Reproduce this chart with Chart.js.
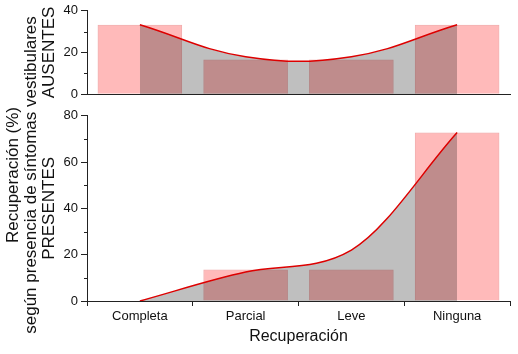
<!DOCTYPE html>
<html>
<head>
<meta charset="utf-8">
<script src="https://cdn.jsdelivr.net/npm/chart.js@4"></script>
<style>
body { margin: 0; background: #fff; }
#wrap { position: relative; width: 518px; height: 354px; overflow: hidden; }
canvas { position: absolute; left: 0; top: 0; }
#ytitle {
  position: absolute; left: -155px; top: 157px; width: 354px; height: 36px;
  font: 17px "Liberation Sans", Arial, sans-serif; line-height: 18px;
  text-align: center; color: #111; transform: rotate(-90deg);
}
</style>
</head>
<body>
<div id="wrap">
  <canvas id="abajo" width="518" height="354"></canvas>
  <canvas id="arriba" width="518" height="105"></canvas>
  <div id="ytitle">Recuperación (%)<br>según presencia de síntomas vestibulares</div>
</div>
<script>
const categorias = ['Completa', 'Parcial', 'Leve', 'Ninguna']
// sintomas vestibulares AUSENTES
const ausentesBarras = [33.3, 16.7, 16.7, 33.3]
const ausentesCurva = [33.3, 18, 18, 33.3]
// sintomas vestibulares PRESENTES
const presentesBarras = [0, 13.6, 13.6, 72.7]
const presentesCurva = [0, 12.5, 22, 72.7]

const fuente = '"Liberation Sans", Arial, sans-serif'
const negro = '#222'

// ticks menores (10, 30, ...)
const menores = {
  id: 'menores',
  afterDraw(chart) {
    const y = chart.scales.y
    const ctx = chart.ctx
    ctx.save()
    ctx.strokeStyle = negro
    ctx.lineWidth = 1
    for (let v = 10; v < y.max; v += 20) {
      const py = Math.round(y.getPixelForValue(v)) + 0.5
      ctx.beginPath()
      ctx.moveTo(y.right - 3, py)
      ctx.lineTo(y.right, py)
      ctx.stroke()
    }
    ctx.restore()
  }
}

function panel(id, barras, curva, max, titulo, conEtiquetas, pad, monotona) {
  return new Chart(document.getElementById(id), {
    type: 'bar',
    data: {
      labels: categorias,
      datasets: [{
        type: 'line',
        data: curva,
        borderColor: '#dd0000',
        borderWidth: 1.5,
        backgroundColor: 'rgba(0,0,0,0.25)',
        fill: 'origin',
        pointRadius: 0,
        tension: 0.4,
        cubicInterpolationMode: monotona ? 'monotone' : 'default',
        order: 1
      }, {
        data: barras,
        backgroundColor: 'rgba(255,0,0,0.27)',
        borderColor: 'rgba(225,70,70,0.45)',
        borderWidth: 1,
        barPercentage: 0.8,
        categoryPercentage: 1,
        order: 2
      }]
    },
    options: {
      responsive: false,
      animation: false,
      layout: { padding: pad },
      plugins: { legend: { display: false }, tooltip: { enabled: false } },
      scales: {
        x: {
          offset: true,
          grid: { display: true, drawOnChartArea: false, drawTicks: conEtiquetas, tickLength: 5, color: negro },
          border: { color: negro, width: 1 },
          ticks: { display: conEtiquetas, color: '#111', padding: 3, font: { family: fuente, size: 13 } },
          title: {
            display: conEtiquetas, text: 'Recuperación', color: '#111',
            font: { family: fuente, size: 16 }, padding: { top: 0, bottom: 7.7 }
          },
          afterFit: s => { s.height = conEtiquetas ? 53 : 0 }
        },
        y: {
          min: 0, max: max,
          ticks: { stepSize: 20, color: '#111', padding: 3, font: { family: fuente, size: 13 } },
          grid: { drawOnChartArea: false, tickLength: 6, color: negro },
          border: { color: negro, width: 1 },
          title: {
            display: true, text: titulo, color: '#111',
            font: { family: fuente, size: 17 }, padding: { top: 38.8, bottom: 0 }
          },
          afterFit: s => { s.width = 87 }
        }
      }
    },
    plugins: [menores]
  })
}

panel('arriba', ausentesBarras, ausentesCurva, 40, 'AUSENTES', false,
  { top: 9.7, bottom: 8.7, left: 0, right: 8 }, false)
panel('abajo', presentesBarras, presentesCurva, 80, 'PRESENTES', true,
  { top: 115.7, bottom: 0, left: 0, right: 8 }, true)
</script>
</body>
</html>
